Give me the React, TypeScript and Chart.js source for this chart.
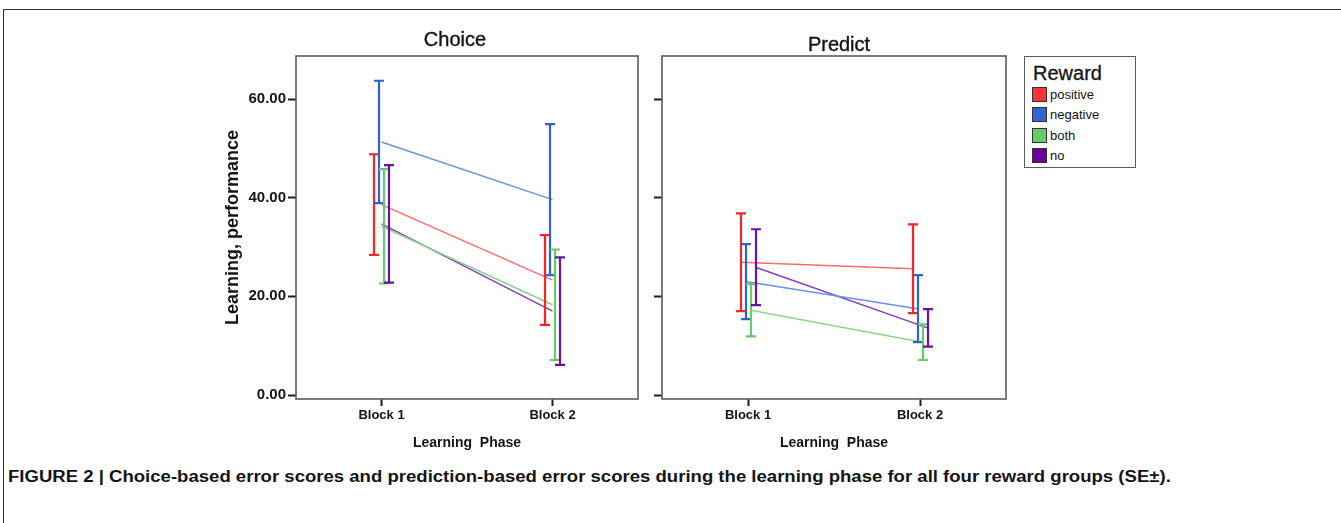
import React, { useEffect, useLayoutEffect, useRef } from 'react';
import { Chart, registerables } from 'chart.js';

Chart.register(...registerables);

// ---------- data ----------
const categories = ['Block 1', 'Block 2'];
const groups = ['positive', 'negative', 'both', 'no'];
const yTicks = [0, 20, 40, 60];

const choicePositiveMean = [38.6, 23.3];
const choicePositiveSE = [10.2, 9.1];
const choiceNegativeMean = [51.3, 39.6];
const choiceNegativeSE = [12.4, 15.3];
const choiceBothMean = [34.2, 18.3];
const choiceBothSE = [11.6, 11.2];
const choiceNoMean = [34.7, 17.0];
const choiceNoSE = [11.9, 10.9];

const predictPositiveMean = [26.9, 25.6];
const predictPositiveSE = [9.9, 9.0];
const predictNegativeMean = [23.0, 17.5];
const predictNegativeSE = [7.6, 6.8];
const predictBothMean = [17.2, 10.7];
const predictBothSE = [5.3, 3.6];
const predictNoMean = [25.9, 13.6];
const predictNoSE = [7.7, 3.8];

const captionText =
  'FIGURE 2 | Choice-based error scores and prediction-based error scores during the learning phase for all four reward groups (SE±).';

// ---------- style ----------
const FONT = '"Liberation Sans", Arial, Helvetica, sans-serif';
const TEXT = '#141414';
const barColors = ['#ff2222', '#2d62d4', '#66cc66', '#6a10a6'];
const lineColors = ['#ff6b6b', '#6992e2', '#86d886', '#8a3cc0'];
const swatchColors = ['#ff3333', '#3366cc', '#66cc66', '#660099'];
const barDodgePx = [-7.5, -2.5, 2.5, 7.5];
const lineDodgeUnits = [-0.044, -0.015, 0.015, 0.044];
const Y_MIN = -0.81;
const Y_MAX = 68.72;
const CAPTION_WIDTH = 1163;

const framePlugin = {
  id: 'frameBox',
  afterDraw(chart: any) {
    const { ctx, chartArea } = chart;
    ctx.save();
    ctx.strokeStyle = '#5c5c5c';
    ctx.lineWidth = 1.6;
    ctx.strokeRect(chartArea.left, chartArea.top, chartArea.right - chartArea.left, chartArea.bottom - chartArea.top);
    ctx.restore();
  },
};

const errorBarPlugin = {
  id: 'errorBars',
  afterDatasetsDraw(chart: any) {
    const { ctx } = chart;
    const xs = chart.scales.x;
    const ys = chart.scales.y;
    chart.data.datasets.forEach((ds: any) => {
      if (!ds.se) return;
      ctx.save();
      ctx.strokeStyle = ds.barColor;
      ctx.lineWidth = 2.2;
      ds.means.forEach((m: number, i: number) => {
        const px = Math.round(xs.getPixelForValue(i) + ds.dodgePx);
        const yt = ys.getPixelForValue(m + ds.se[i]);
        const yb = ys.getPixelForValue(m - ds.se[i]);
        ctx.beginPath();
        ctx.moveTo(px, yt);
        ctx.lineTo(px, yb);
        ctx.moveTo(px - 5, yt);
        ctx.lineTo(px + 5, yt);
        ctx.moveTo(px - 5, yb);
        ctx.lineTo(px + 5, yb);
        ctx.stroke();
      });
      ctx.restore();
    });
  },
};

const panelTitlePlugin = {
  id: 'panelTitle',
  afterDraw(chart: any, _args: any, opts: any) {
    const { ctx, chartArea } = chart;
    ctx.save();
    ctx.font = `normal 20px ${FONT}`;
    ctx.fillStyle = TEXT;
    ctx.textAlign = 'center';
    ctx.textBaseline = 'middle';
    const x = (chartArea.left + chartArea.right) / 2 + opts.dx;
    const y = chartArea.top - opts.dy;
    ctx.fillText(opts.text, x, y);
    ctx.lineWidth = 0.4;
    ctx.strokeStyle = TEXT;
    ctx.strokeText(opts.text, x, y);
    ctx.restore();
  },
};

type Panel = {
  title: string;
  titleDx: number;
  titleDy: number;
  means: number[][];
  ses: number[][];
  showYLabels: boolean;
  yTitle: string;
  yWidth: number;
  padRight: number;
  dodgeLines: boolean;
};

const choicePanel: Panel = {
  title: 'Choice',
  titleDx: -12,
  titleDy: 16,
  means: [choicePositiveMean, choiceNegativeMean, choiceBothMean, choiceNoMean],
  ses: [choicePositiveSE, choiceNegativeSE, choiceBothSE, choiceNoSE],
  showYLabels: true,
  yTitle: 'Learning, performance',
  yWidth: 96,
  padRight: 12,
  dodgeLines: false,
};

const predictPanel: Panel = {
  title: 'Predict',
  titleDx: 5,
  titleDy: 11,
  means: [predictPositiveMean, predictNegativeMean, predictBothMean, predictNoMean],
  ses: [predictPositiveSE, predictNegativeSE, predictBothSE, predictNoSE],
  showYLabels: false,
  yTitle: '',
  yWidth: 42,
  padRight: 14,
  dodgeLines: true,
};

function PanelChart({ panel, left, width }: { panel: Panel; left: number; width: number }) {
  const ref = useRef<HTMLCanvasElement>(null);
  useEffect(() => {
    if (!ref.current) return;
    const datasets = groups.map((g, gi) => ({
      label: g,
      data: categories.map((_, ci) => ({
        x: ci + (panel.dodgeLines ? lineDodgeUnits[gi] : 0),
        y: panel.means[gi][ci],
      })),
      borderColor: lineColors[gi],
      backgroundColor: lineColors[gi],
      borderWidth: 1.5,
      pointRadius: 0,
      tension: 0,
      means: panel.means[gi],
      se: panel.ses[gi],
      barColor: barColors[gi],
      dodgePx: barDodgePx[gi],
    }));
    const tickGrid = (len: number) => ({
      drawOnChartArea: false,
      drawTicks: true,
      tickLength: len,
      tickWidth: 2,
      tickColor: '#1e1e1e',
      color: '#1e1e1e',
    });
    const chart = new Chart(ref.current, {
      type: 'line',
      data: { datasets } as any,
      options: {
        animation: false,
        responsive: false,
        maintainAspectRatio: false,
        layout: { padding: { top: 36, right: panel.padRight, left: 0, bottom: 0 } },
        plugins: {
          legend: { display: false },
          title: { display: false },
          tooltip: { enabled: false },
          panelTitle: { text: panel.title, dx: panel.titleDx, dy: panel.titleDy },
        } as any,
        scales: {
          x: {
            type: 'linear',
            min: -0.5,
            max: 1.5,
            afterBuildTicks: (s: any) => {
              s.ticks = categories.map((_, i) => ({ value: i }));
            },
            afterFit: (s: any) => {
              s.height = 61;
            },
            ticks: {
              callback: (v: any) => categories[Math.round(Number(v))] ?? '',
              font: { family: FONT, weight: 'bold', size: 13 },
              color: TEXT,
              padding: 2,
              maxRotation: 0,
              autoSkip: false,
            },
            grid: tickGrid(7),
            border: { display: false },
            title: {
              display: true,
              text: 'Learning  Phase',
              font: { family: FONT, weight: 'bold', size: 14 },
              color: TEXT,
              padding: { top: 0, bottom: 8.6 },
            },
          },
          y: {
            type: 'linear',
            min: Y_MIN,
            max: Y_MAX,
            afterBuildTicks: (s: any) => {
              s.ticks = yTicks.map((v) => ({ value: v }));
            },
            afterFit: (s: any) => {
              s.width = panel.yWidth;
            },
            ticks: {
              callback: (v: any) => (panel.showYLabels ? Number(v).toFixed(2) : ''),
              font: { family: FONT, weight: 'bold', size: 15 },
              color: TEXT,
              padding: 2,
            },
            grid: tickGrid(8),
            border: { display: false },
            title: {
              display: !!panel.yTitle,
              text: panel.yTitle,
              font: { family: FONT, weight: 'bold', size: 18 },
              color: TEXT,
              padding: { top: 22.2, bottom: 0 },
            },
          },
        },
      } as any,
      plugins: [framePlugin, errorBarPlugin, panelTitlePlugin],
    });
    return () => chart.destroy();
  }, [panel]);
  return (
    <canvas
      ref={ref}
      width={width}
      height={440}
      style={{ position: 'absolute', left, top: 20, width, height: 440 }}
    />
  );
}

function Legend() {
  return (
    <div
      style={{
        position: 'absolute',
        left: 1024,
        top: 56,
        width: 110,
        height: 110,
        border: '1.6px solid #5c5c5c',
        background: '#fff',
        fontFamily: FONT,
        color: TEXT,
      }}
    >
      <div style={{ position: 'absolute', left: 8, top: 4, fontSize: 20, lineHeight: '24px', WebkitTextStroke: '0.3px #141414' }}>
        Reward
      </div>
      {groups.map((g, i) => (
        <div key={g} style={{ position: 'absolute', left: 7, top: 30 + i * 20.4, height: 15, display: 'flex', alignItems: 'center' }}>
          <div
            style={{
              width: 13,
              height: 13,
              background: swatchColors[i],
              border: '1px solid #333',
              marginRight: 3,
            }}
          />
          <span style={{ fontSize: 13, lineHeight: '15px' }}>{g}</span>
        </div>
      ))}
    </div>
  );
}

function Caption() {
  const ref = useRef<HTMLDivElement>(null);
  useLayoutEffect(() => {
    const el = ref.current;
    if (!el) return;
    el.style.transform = 'none';
    const w = el.scrollWidth;
    if (w > 0) el.style.transform = `scaleX(${CAPTION_WIDTH / w})`;
  }, []);
  return (
    <div
      ref={ref}
      style={{
        position: 'absolute',
        left: 8,
        top: 467,
        fontFamily: FONT,
        fontWeight: 'bold',
        fontSize: 16,
        lineHeight: '20px',
        color: TEXT,
        whiteSpace: 'nowrap',
        transformOrigin: '0 0',
      }}
    >
      {captionText}
    </div>
  );
}

export default function App() {
  return (
    <div
      style={{
        position: 'absolute',
        left: 0,
        top: 0,
        width: 1341,
        height: 523,
        overflow: 'hidden',
        background: '#fff',
      }}
    >
      <div
        style={{
          position: 'absolute',
          left: 3,
          top: 9,
          width: 1500,
          height: 700,
          borderTop: '1.6px solid #333',
          borderLeft: '1.6px solid #333',
        }}
      />
      <PanelChart panel={choicePanel} left={200} width={450} />
      <PanelChart panel={predictPanel} left={620} width={400} />
      <Legend />
      <Caption />
    </div>
  );
}
